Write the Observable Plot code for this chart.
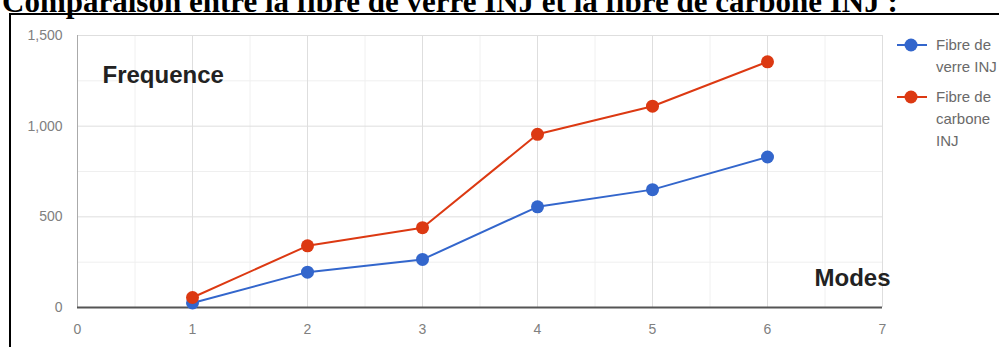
<!DOCTYPE html>
<html>
<head>
<meta charset="utf-8">
<script src="https://cdn.jsdelivr.net/npm/d3@7"></script>
<script src="https://cdn.jsdelivr.net/npm/@observablehq/plot@0.6"></script>
<style>
  html, body { margin: 0; padding: 0; background: #fff; }
  #wrap { position: relative; width: 999px; height: 347px; overflow: hidden; background: #fff; }
  #box { position: absolute; left: 9px; top: 13px; width: 2000px; height: 1000px; border: 2px solid #000; box-sizing: border-box; }
  #title { position: absolute; left: 2px; top: -14px; font-family: "Liberation Serif", "Times New Roman", serif; font-weight: bold; font-size: 31px; line-height: 31px; white-space: nowrap; color: #000; }
  #chart { position: absolute; left: 0; top: 0; }
  #legend { position: absolute; left: 0; top: 0; font-family: "Liberation Sans", Arial, sans-serif; font-size: 15px; color: #6a6a6a; }
  .item { position: absolute; left: 895px; }
  .item svg { position: absolute; left: 0; top: 0; }
  .item .lbl { position: absolute; left: 41px; top: 0; line-height: 22px; white-space: nowrap; }
</style>
</head>
<body>
<div id="wrap">
  <div id="box"></div>
  <div id="chart"></div>
  <div id="legend"></div>
  <div id="title"></div>
</div>
<script>
// ---- data ----
const titleText = "Comparaison entre la fibre de verre INJ et la fibre de carbone INJ :";
const modes = [1, 2, 3, 4, 5, 6];
const verre = [25, 195, 265, 555, 650, 830];
const carbone = [55, 340, 440, 955, 1110, 1355];
const seriesNames = ["Fibre de verre INJ", "Fibre de carbone INJ"];
const legendLines = [["Fibre de", "verre INJ"], ["Fibre de", "carbone", "INJ"]];
const seriesColors = ["#3366cc", "#dc3912"];
const xTicks = [0, 1, 2, 3, 4, 5, 6, 7];
const xMinor = [0.5, 1.5, 2.5, 3.5, 4.5, 5.5, 6.5];
const yTicks = [0, 500, 1000, 1500];
const yMinor = [250, 750, 1250];
const yLabel = "Frequence";
const xLabel = "Modes";

const data = modes.flatMap((m, i) => [
  {mode: m, value: verre[i], serie: seriesNames[0]},
  {mode: m, value: carbone[i], serie: seriesNames[1]}
]);

document.getElementById("title").textContent = titleText;

const chart = Plot.plot({
  width: 999,
  height: 347,
  marginLeft: 77,
  marginRight: 117,
  marginTop: 35,
  marginBottom: 40,
  x: {domain: [0, 7]},
  y: {domain: [0, 1500]},
  color: {domain: seriesNames, range: seriesColors},
  style: {fontFamily: "'Liberation Sans', Arial, sans-serif", fontSize: "14px", color: "#808080", background: "transparent"},
  marks: [
    Plot.ruleX(xMinor, {stroke: "#f0f0f0"}),
    Plot.ruleY(yMinor, {stroke: "#efefef"}),
    Plot.ruleX(xTicks.slice(1), {stroke: "#dedede"}),
    Plot.ruleY(yTicks.slice(1), {stroke: "#dedede"}),
    Plot.ruleX([0], {stroke: "#aaa"}),
    Plot.ruleY([0], {stroke: "#555", strokeWidth: 2}),
    Plot.axisX({ticks: xTicks, tickSize: 0, tickPadding: 17, label: null, tickFormat: d3.format("d")}),
    Plot.axisY({ticks: yTicks, tickSize: 0, tickPadding: 15, label: null, tickFormat: d3.format(",")}),
    Plot.line(data, {x: "mode", y: "value", stroke: "serie", strokeWidth: 2}),
    Plot.dot(data, {x: "mode", y: "value", fill: "serie", r: 6.5}),
    Plot.text([yLabel], {text: d => d, frameAnchor: "top-left", dx: 25, dy: 30, textAnchor: "start", fontSize: 24, fontWeight: "bold", fill: "#222"}),
    Plot.text([xLabel], {text: d => d, frameAnchor: "bottom-right", dx: 8, dy: -22, textAnchor: "end", fontSize: 24, fontWeight: "bold", fill: "#222"})
  ]
});
document.getElementById("chart").appendChild(chart);

// legend
const legend = document.getElementById("legend");
const itemTops = [34, 86];
seriesNames.forEach((s, i) => {
  const it = document.createElement("div");
  it.className = "item";
  it.style.top = itemTops[i] + "px";
  it.innerHTML = `<svg width="36" height="22"><line x1="2" x2="32" y1="11" y2="11" stroke="${seriesColors[i]}" stroke-width="2"/><circle cx="16" cy="11" r="6.5" fill="${seriesColors[i]}"/></svg>`;
  const lbl = document.createElement("div");
  lbl.className = "lbl";
  lbl.innerHTML = legendLines[i].join("<br>");
  it.appendChild(lbl);
  legend.appendChild(it);
});
</script>
</body>
</html>
